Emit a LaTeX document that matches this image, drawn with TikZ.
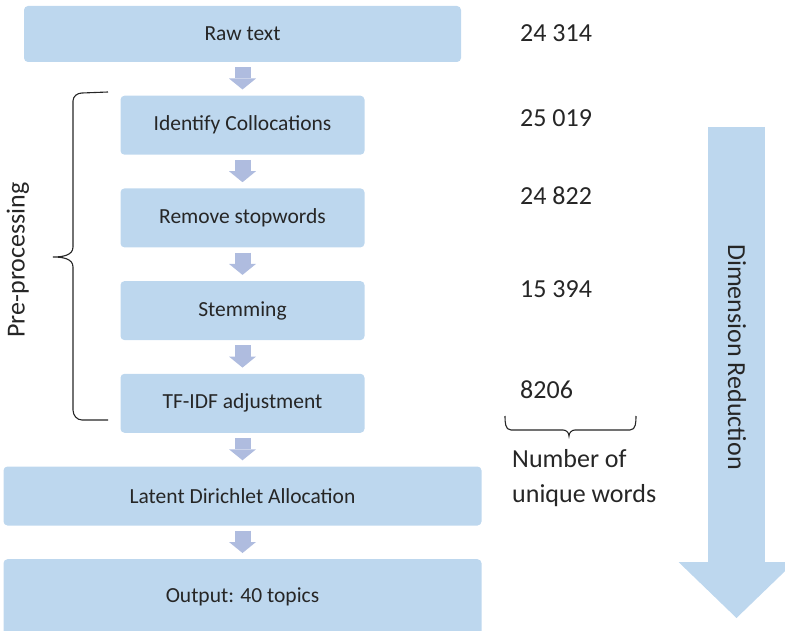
\documentclass[tikz,border=0pt]{standalone}
\usepackage{fontspec}
\setmainfont{Carlito}
\usepackage{tikz}
\usetikzlibrary{arrows.meta,positioning}
\definecolor{boxblue}{HTML}{BDD7EE}
\definecolor{arrowblue}{HTML}{AFBCDF}
\definecolor{textgray}{HTML}{262626}
\tikzset{
    %Define style for process boxes
    stepbox/.style={
             rectangle, rounded corners=4pt,
             fill=boxblue, draw=none,
             text=textgray, inner sep=0pt,
             minimum width=244pt, minimum height=59pt,
             font=\fontsize{21.5}{26}\selectfont},
    widebox/.style={
             stepbox, minimum width=478pt},
    %Define style for word counts
    countnode/.style={
             anchor=west, inner sep=0pt,
             text=textgray,
             font=\fontsize{26}{35}\selectfont},
    % Define arrow styles
    steparrow/.style={
            -{Triangle[length=11pt,width=27pt,line width=0pt]},
            line width=16pt, draw=arrowblue,
            shorten <=5pt, shorten >=6pt},
    reducearrow/.style={
            -{Triangle[length=56pt,width=116pt,line width=0pt]},
            line width=57pt, draw=boxblue},
    bracepath/.style={
            draw=black!85, line width=1.1pt}
}

\begin{document}
\begin{tikzpicture}[x=1pt, y=-1pt, node distance=33.3pt]
 \useasboundingbox (0,0) rectangle (785,631);
 \clip (0,0) rectangle (785,631);
 % pipeline
 \node[stepbox, minimum width=437pt, minimum height=56pt] (raw) at (242.5,34) {Raw text};
 \node[stepbox, below=of raw] (ident) {Identify Collocations};
 \node[stepbox, below=of ident] (stop) {Remove stopwords};
 \node[stepbox, below=of stop] (stem) {Stemming};
 \node[stepbox, below=of stem] (tfidf) {TF-IDF adjustment};
 \node[widebox, below=of tfidf] (lda) {Latent Dirichlet Allocation};
 \node[widebox, below=of lda, minimum height=76pt] (out) {Output: 40 topics};
 \draw[steparrow] (raw) -- (ident);
 \draw[steparrow] (ident) -- (stop);
 \draw[steparrow] (stop) -- (stem);
 \draw[steparrow] (stem) -- (tfidf);
 \draw[steparrow] (tfidf) -- (lda);
 \draw[steparrow] (lda) -- (out);
 % pre-processing brace
 \draw[bracepath] (108,92) -- (82,93) to[out=180,in=90] (73,101) -- (73,247)
       to[out=-90,in=0] (53,257) to[out=0,in=90] (73,267) -- (73,410)
       to[out=-90,in=180] (82,420) -- (108,420);
 \node[countnode, anchor=center, rotate=90] (pre) at (18,260) {Pre-processing};
 % word counts
 \node[countnode] (c1) at (520,33) {24 314};
 \node[countnode] (c2) at (520,118) {25 019};
 \node[countnode] (c3) at (520,196) {24 822};
 \node[countnode] (c4) at (520,289) {15 394};
 \node[countnode] (c5) at (520,390) {8206};
 \draw[bracepath] (505,416) to[out=-90,in=180] (511,430) -- (563,430)
       to[out=0,in=90] (569,436) to[out=90,in=180] (575,430) -- (630,430)
       to[out=0,in=-90] (636,416);
 \node[countnode, align=left] (unique) at (512,478) {Number of\\unique words};
 % dimension reduction arrow
 \coordinate (redtop) at (736.5,127);
 \coordinate (redend) at (736.5,618);
 \draw[reducearrow] (redtop) -- (redend);
 \node[countnode, anchor=center, rotate=-90] (red) at (737,357) {Dimension Reduction};
\end{tikzpicture}
\end{document}
